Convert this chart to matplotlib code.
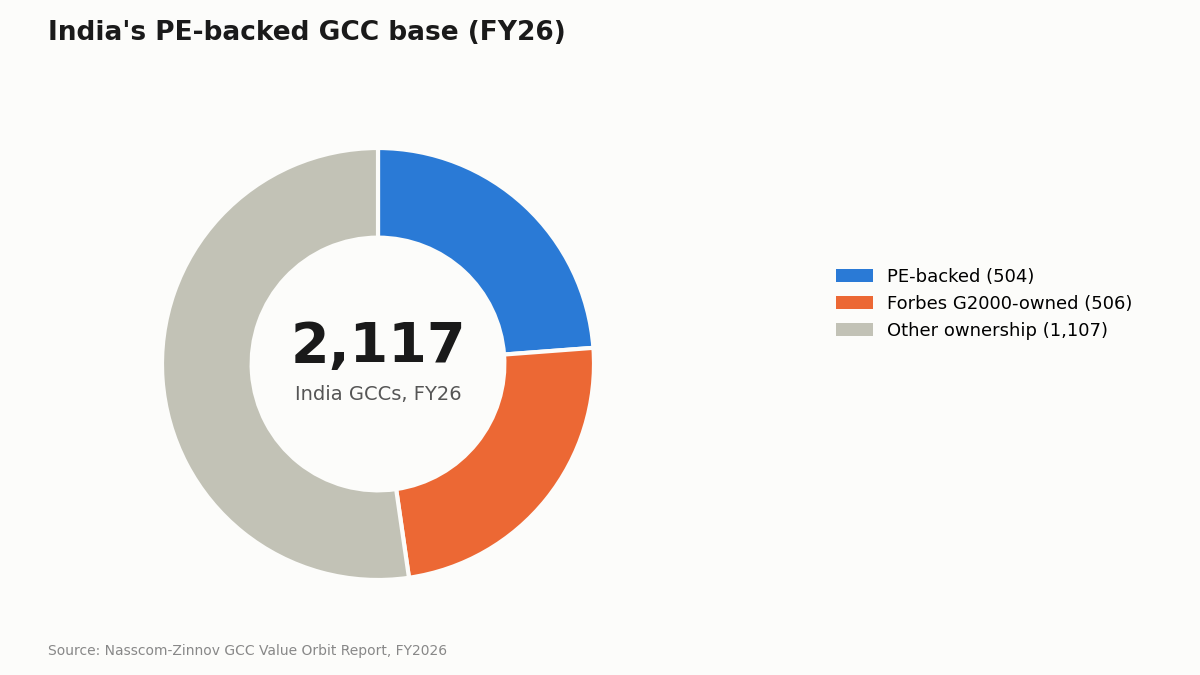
import matplotlib.pyplot as plt
import matplotlib.patches as mpatches

labels = ["PE-backed", "Forbes G2000-owned", "Other ownership"]
counts = [504, 506, 1107]
colors = ["#2a7ad6", "#ec6834", "#c2c2b6"]
total = sum(counts)

bg = "#fcfcfa"
fig = plt.figure(figsize=(12, 6.75), dpi=100, facecolor=bg)

# donut axes, sized so radius 1 ~ 216 px
r = 216
ax = fig.add_axes([(378 - r) / 1200, 1 - (364 + r) / 675, 2 * r / 1200, 2 * r / 675])
ax.set_facecolor(bg)
wedges, _ = ax.pie(counts, colors=colors, startangle=90, counterclock=False,
                   radius=1, wedgeprops=dict(width=0.415, edgecolor=bg, linewidth=3))
ax.set_xlim(-1, 1)
ax.set_ylim(-1, 1)
ax.set_aspect("equal")

ax.text(0, 0.08, f"{total:,}", ha="center", va="center", fontsize=40,
        fontweight="bold", color="#1a1a1a")
ax.text(0, -0.14, "India GCCs, FY26", ha="center", va="center", fontsize=14, color="#555555")

handles = [mpatches.Patch(facecolor=c, edgecolor="none") for c in colors]
leg_labels = [f"{l} ({c:,})" for l, c in zip(labels, counts)]
fig.legend(handles, leg_labels, loc="upper left", bbox_to_anchor=(0.6835, 0.627),
           frameon=False, fontsize=13, handlelength=2.0, handleheight=0.72,
           labelspacing=0.5)

fig.text(48 / 1200, 1 - 33 / 675, "India's PE-backed GCC base (FY26)", ha="left", va="center",
         fontsize=19, fontweight="bold", color="#1a1a1a")
fig.text(48 / 1200, 1 - 651 / 675, "Source: Nasscom-Zinnov GCC Value Orbit Report, FY2026",
         ha="left", va="center", fontsize=10, color="#888888")

fig.savefig("out.png", dpi=100, facecolor=bg)
